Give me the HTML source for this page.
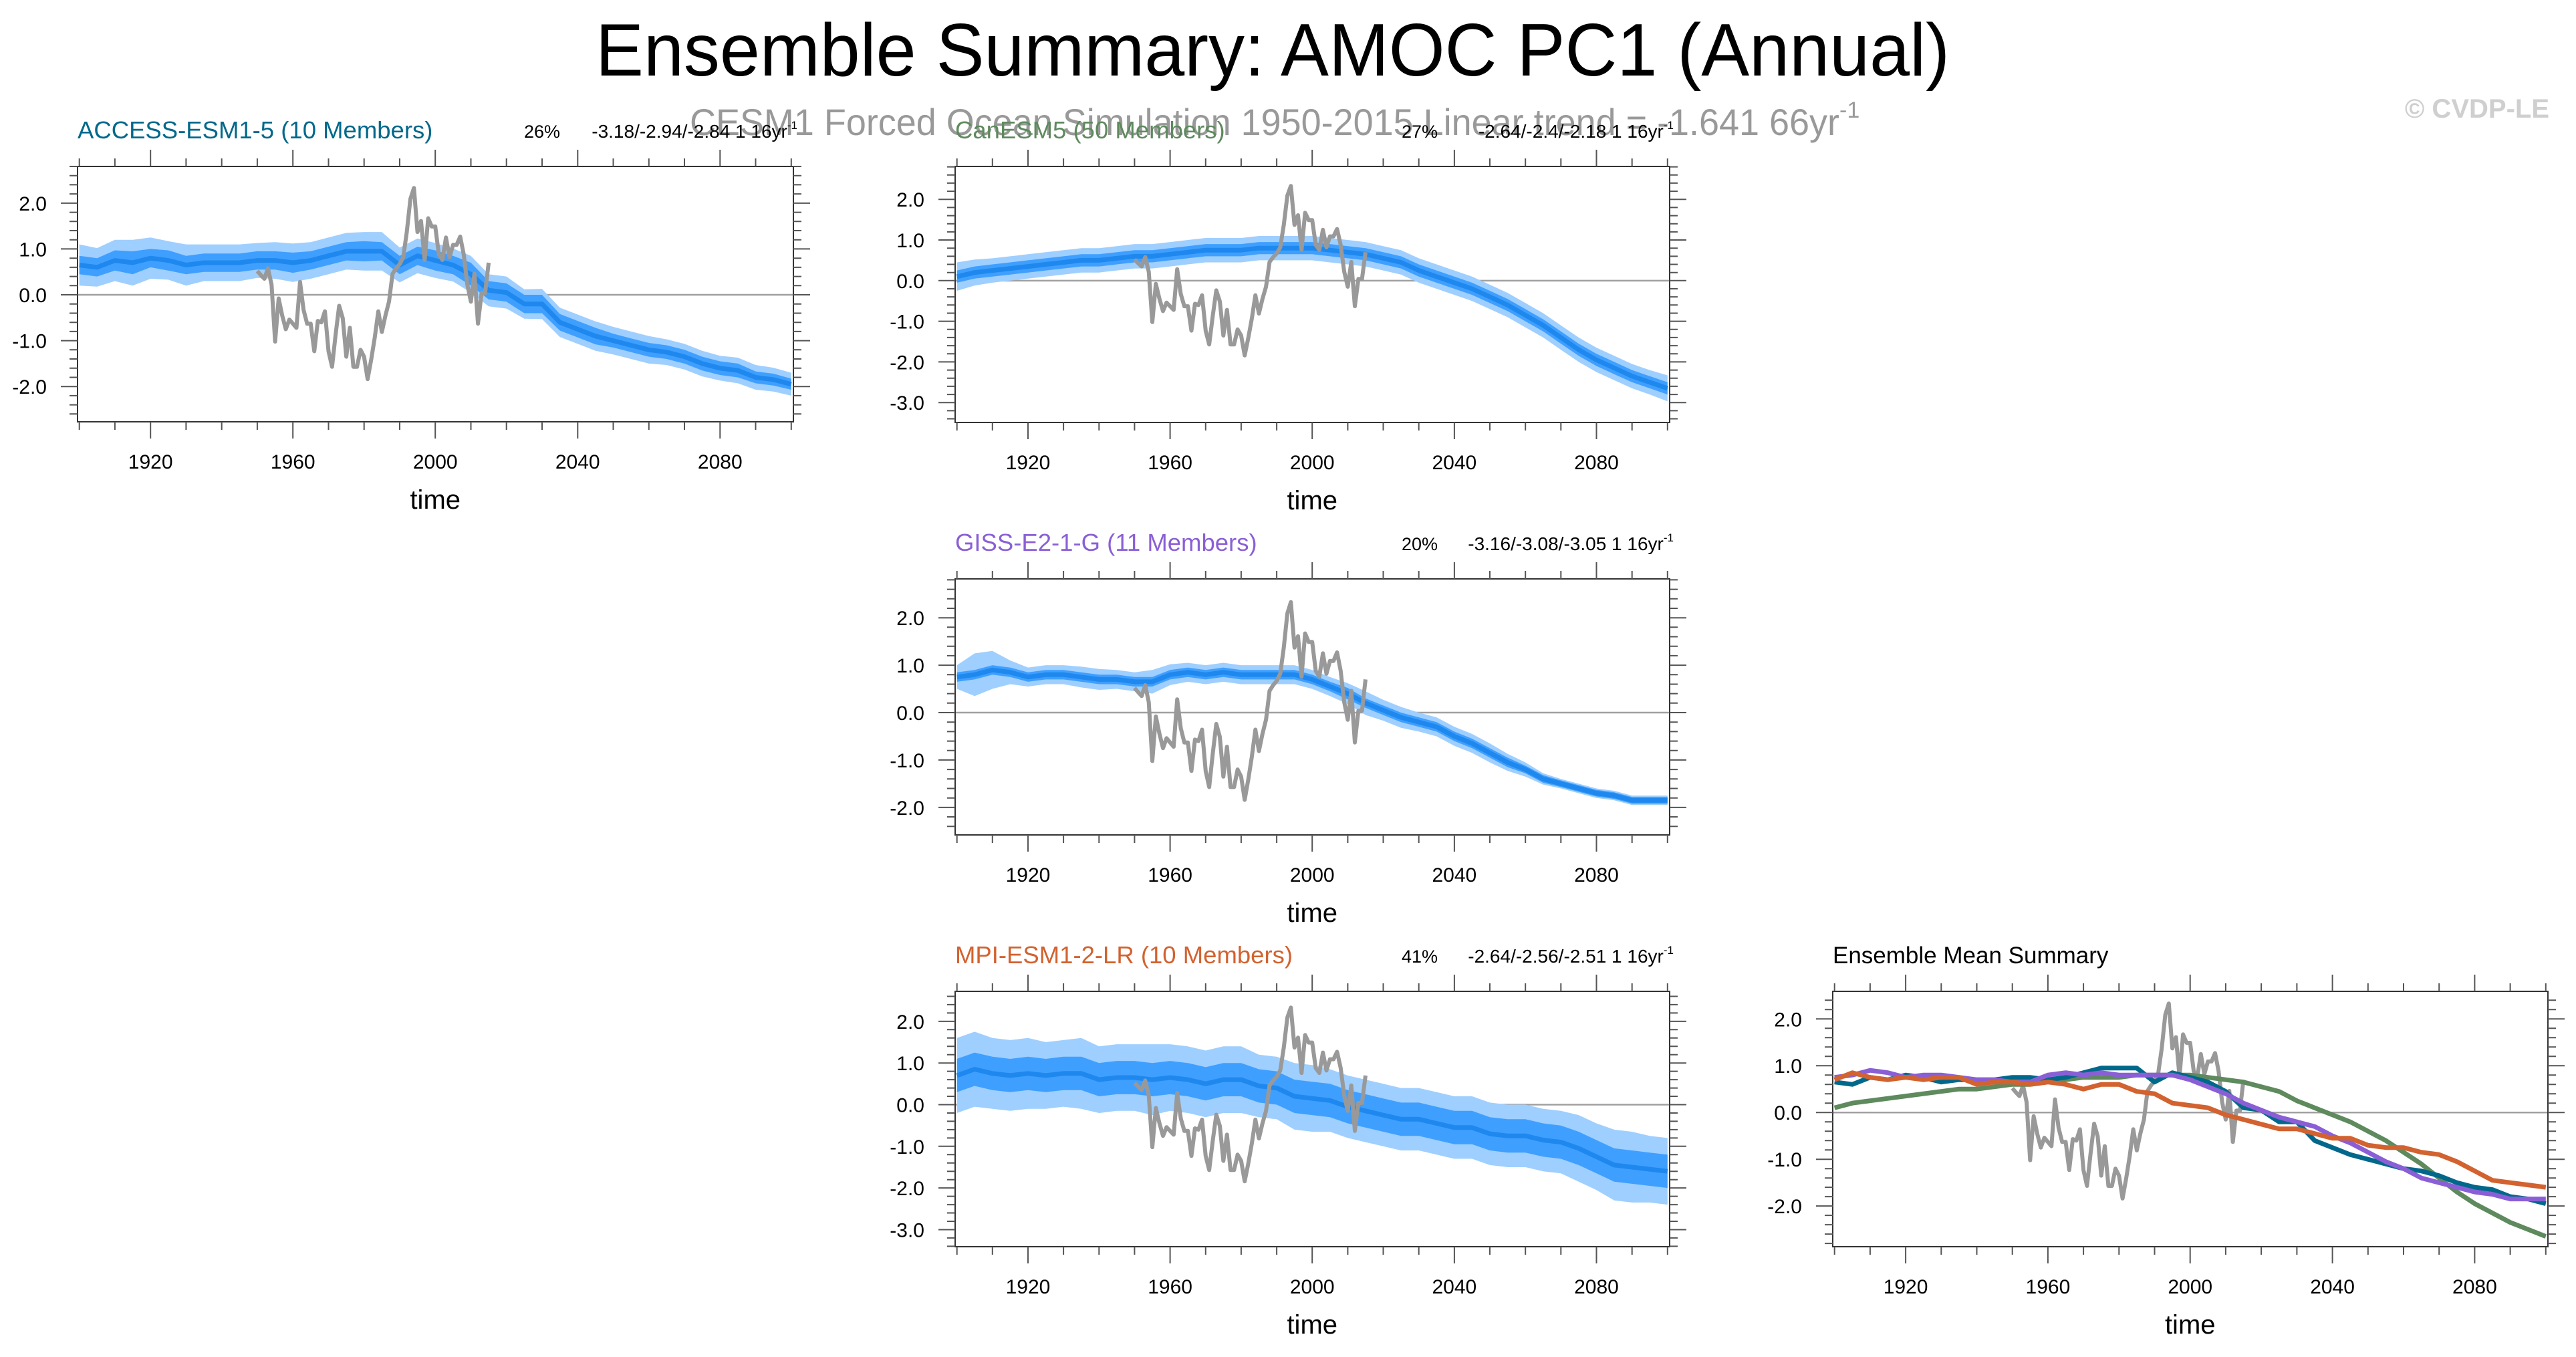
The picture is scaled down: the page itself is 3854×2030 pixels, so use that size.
<!DOCTYPE html>
<html><head><meta charset="utf-8"><title>Ensemble Summary: AMOC PC1 (Annual)</title>
<style>html,body{margin:0;padding:0;background:#fff}svg{display:block}text{font-family:"Liberation Sans",Arial,sans-serif}</style>
</head><body>
<svg id="root" xmlns="http://www.w3.org/2000/svg" width="3854" height="2030" viewBox="0 0 3854 2030">
<rect x="0" y="0" width="3854" height="2030" fill="#fff"/>
<text x="1904" y="113" text-anchor="middle" font-size="111" textLength="2026" lengthAdjust="spacingAndGlyphs" fill="#000">Ensemble Summary: AMOC PC1 (Annual)</text>
<text x="1032" y="202" font-size="56" fill="#999"><tspan textLength="1720" lengthAdjust="spacingAndGlyphs">CESM1 Forced Ocean Simulation 1950-2015  Linear trend = -1.641 66yr</tspan><tspan font-size="34" dy="-26">-1</tspan></text>
<text x="3814" y="176" text-anchor="end" font-size="40" font-weight="bold" fill="#cfcfcf">© CVDP-LE</text>
<g id="plots"></g>
</svg>
<script>
// Years (5-year resolution for ensemble stats)
const years5 = [1900,1905,1910,1915,1920,1925,1930,1935,1940,1945,1950,1955,1960,1965,1970,1975,1980,1985,1990,1995,2000,2005,2010,2015,2020,2025,2030,2035,2040,2045,2050,2055,2060,2065,2070,2075,2080,2085,2090,2095,2100];
// Observations (CESM1 forced ocean), 1950-2015 annual
const obsYears = [1950,1951,1952,1953,1954,1955,1956,1957,1958,1959,1960,1961,1962,1963,1964,1965,1966,1967,1968,1969,1970,1971,1972,1973,1974,1975,1976,1977,1978,1979,1980,1981,1982,1983,1984,1985,1986,1987,1988,1989,1990,1991,1992,1993,1994,1995,1996,1997,1998,1999,2000,2001,2002,2003,2004,2005,2006,2007,2008,2009,2010,2011,2012,2013,2014,2015];
const obsValues = [0.52,0.43,0.35,0.58,0.22,-1.02,-0.08,-0.45,-0.75,-0.54,-0.63,-0.72,0.28,-0.33,-0.63,-0.63,-1.23,-0.57,-0.6,-0.36,-1.23,-1.57,-0.87,-0.24,-0.51,-1.35,-0.72,-1.57,-1.57,-1.2,-1.35,-1.84,-1.41,-0.93,-0.36,-0.81,-0.45,-0.15,0.46,0.58,0.67,0.82,1.37,2.09,2.33,1.37,1.61,0.76,1.67,1.49,1.49,0.88,0.76,1.25,0.82,1.09,1.09,1.27,0.88,0.22,-0.15,0.46,-0.63,0.04,0.04,0.7];
// ACCESS-ESM1-5
const accessMean = [0.65,0.6,0.75,0.7,0.8,0.75,0.65,0.7,0.7,0.7,0.75,0.75,0.7,0.75,0.85,0.95,0.95,0.95,0.65,0.85,0.75,0.65,0.45,0.1,0.05,-0.2,-0.2,-0.6,-0.75,-0.9,-1.0,-1.1,-1.2,-1.25,-1.35,-1.5,-1.6,-1.65,-1.8,-1.85,-1.95];
const accessInner = [0.2,0.2,0.22,0.25,0.2,0.22,0.2,0.2,0.2,0.2,0.2,0.2,0.22,0.2,0.2,0.2,0.22,0.2,0.2,0.2,0.22,0.2,0.25,0.2,0.2,0.2,0.2,0.18,0.18,0.18,0.15,0.15,0.15,0.15,0.15,0.15,0.15,0.15,0.13,0.13,0.12];
const accessOuter = [0.45,0.42,0.45,0.5,0.45,0.42,0.45,0.4,0.4,0.4,0.38,0.4,0.42,0.4,0.4,0.4,0.42,0.42,0.38,0.38,0.38,0.36,0.4,0.35,0.35,0.32,0.33,0.32,0.32,0.32,0.3,0.3,0.3,0.28,0.28,0.28,0.27,0.28,0.27,0.26,0.25];
// CanESM5
const canMean = [0.1,0.2,0.25,0.3,0.35,0.4,0.45,0.5,0.5,0.55,0.6,0.6,0.65,0.7,0.75,0.75,0.75,0.8,0.8,0.8,0.8,0.75,0.7,0.65,0.55,0.45,0.25,0.1,-0.05,-0.2,-0.4,-0.6,-0.85,-1.1,-1.4,-1.7,-1.95,-2.15,-2.35,-2.5,-2.65];
const canInner = [0.15,0.15,0.15,0.15,0.15,0.15,0.15,0.15,0.15,0.15,0.15,0.15,0.15,0.15,0.15,0.15,0.15,0.15,0.15,0.15,0.15,0.15,0.15,0.15,0.15,0.15,0.15,0.15,0.15,0.15,0.15,0.15,0.15,0.15,0.15,0.15,0.15,0.15,0.15,0.15,0.15];
const canOuter = [0.35,0.32,0.3,0.3,0.3,0.3,0.3,0.3,0.3,0.3,0.3,0.3,0.3,0.3,0.3,0.3,0.3,0.3,0.3,0.3,0.3,0.3,0.3,0.3,0.3,0.3,0.3,0.3,0.3,0.3,0.3,0.3,0.3,0.3,0.3,0.3,0.3,0.3,0.3,0.3,0.32];
// GISS-E2-1-G
const gissMean = [0.75,0.8,0.9,0.85,0.75,0.8,0.8,0.75,0.7,0.7,0.65,0.65,0.8,0.85,0.8,0.85,0.8,0.8,0.8,0.8,0.7,0.55,0.4,0.2,0.05,-0.1,-0.2,-0.3,-0.5,-0.65,-0.85,-1.05,-1.2,-1.4,-1.5,-1.6,-1.7,-1.75,-1.85,-1.85,-1.85];
const gissInner = [0.1,0.1,0.1,0.1,0.1,0.1,0.1,0.1,0.1,0.1,0.1,0.1,0.1,0.1,0.1,0.1,0.1,0.1,0.1,0.1,0.1,0.1,0.12,0.1,0.1,0.1,0.1,0.1,0.1,0.1,0.1,0.1,0.08,0.08,0.07,0.07,0.07,0.07,0.07,0.07,0.07];
const gissOuter = [0.25,0.45,0.4,0.25,0.2,0.2,0.2,0.22,0.22,0.2,0.2,0.25,0.22,0.2,0.2,0.2,0.2,0.2,0.2,0.2,0.2,0.2,0.22,0.25,0.22,0.22,0.2,0.2,0.2,0.2,0.2,0.18,0.15,0.12,0.1,0.1,0.1,0.1,0.1,0.1,0.1];
// MPI-ESM1-2-LR
const mpiMean = [0.7,0.85,0.75,0.7,0.75,0.7,0.75,0.75,0.6,0.65,0.65,0.6,0.65,0.6,0.5,0.6,0.6,0.45,0.4,0.2,0.15,0.1,-0.05,-0.15,-0.25,-0.35,-0.35,-0.45,-0.55,-0.55,-0.7,-0.75,-0.75,-0.85,-0.9,-1.05,-1.25,-1.45,-1.5,-1.55,-1.6];
const mpiInner = [0.4,0.4,0.4,0.4,0.4,0.4,0.4,0.4,0.4,0.4,0.4,0.4,0.4,0.4,0.4,0.4,0.4,0.4,0.4,0.4,0.4,0.4,0.4,0.4,0.4,0.4,0.4,0.4,0.4,0.4,0.4,0.4,0.4,0.4,0.4,0.4,0.4,0.4,0.4,0.4,0.4];
const mpiOuter = [0.9,0.9,0.85,0.85,0.85,0.8,0.8,0.85,0.8,0.8,0.8,0.85,0.8,0.8,0.8,0.8,0.8,0.75,0.75,0.8,0.8,0.75,0.75,0.75,0.75,0.75,0.75,0.75,0.75,0.75,0.75,0.75,0.75,0.75,0.75,0.8,0.8,0.85,0.85,0.8,0.8];
// Tick labels
const xTickLabels = [1920,1960,2000,2040,2080];

const NS = 'http://www.w3.org/2000/svg';
const plots = document.getElementById('plots');
function mk(tag, parent){ const e=document.createElementNS(NS,tag); parent.appendChild(e); return e; }

const panels = [
  {key:'access', title:'ACCESS-ESM1-5 (10 Members)', color:'#00688b', pct:'26%', stats:'-3.18/-2.94/-2.84 1 16yr', x:116, y:249, w:1071, h:382, ymin:-2.77, ymax:2.80, ticks:[-2,-1,0,1,2], mean:accessMean, inner:accessInner, outer:accessOuter},
  {key:'canesm5', title:'CanESM5 (50 Members)', color:'#5e8a5e', pct:'27%', stats:'-2.64/-2.4/-2.18 1 16yr', x:1429, y:249, w:1069, h:383, ymin:-3.49, ymax:2.81, ticks:[-3,-2,-1,0,1,2], mean:canMean, inner:canInner, outer:canOuter},
  {key:'giss', title:'GISS-E2-1-G (11 Members)', color:'#8a5fd6', pct:'20%', stats:'-3.16/-3.08/-3.05 1 16yr', x:1429, y:866, w:1069, h:383, ymin:-2.58, ymax:2.82, ticks:[-2,-1,0,1,2], mean:gissMean, inner:gissInner, outer:gissOuter},
  {key:'mpi', title:'MPI-ESM1-2-LR (10 Members)', color:'#d2622f', pct:'41%', stats:'-2.64/-2.56/-2.51 1 16yr', x:1429, y:1483, w:1069, h:382, ymin:-3.41, ymax:2.72, ticks:[-3,-2,-1,0,1,2], mean:mpiMean, inner:mpiInner, outer:mpiOuter},
  {key:'summary', title:'Ensemble Mean Summary', color:'#000', summary:true, x:2742, y:1483, w:1070, h:382, ymin:-2.87, ymax:2.59, ticks:[-2,-1,0,1,2]}
];

function drawPanel(p){
  const g = mk('g', plots);
  
  
  const xs = yr => p.x + (yr - 1899.5) / (2100.6 - 1899.5) * p.w;
  const ys = v => p.y + (p.ymax - v) / (p.ymax - p.ymin) * p.h;
  const L = p.x, R = p.x + p.w, T = p.y, B = p.y + p.h;

  const cid = 'clip-' + p.key;
  const cp = mk('clipPath', g); cp.setAttribute('id', cid);
  const cr = mk('rect', cp); cr.setAttribute('x', L); cr.setAttribute('y', T); cr.setAttribute('width', p.w); cr.setAttribute('height', p.h);
  const plotG = mk('g', g); plotG.setAttribute('clip-path', 'url(#' + cid + ')');
  
  

  const zl = mk('line', plotG);
  zl.setAttribute('x1', L); zl.setAttribute('x2', R); zl.setAttribute('y1', ys(0)); zl.setAttribute('y2', ys(0));
  zl.setAttribute('stroke', '#a0a0a0'); zl.setAttribute('stroke-width', '2.5');
  
  

  const linePts = (xsArr, vals) => xsArr.map((yr,i)=> xs(yr).toFixed(1)+','+ys(vals[i]).toFixed(1)).join(' ');
  const band = (vals, wid) => {
    const up = years5.map((yr,i)=> xs(yr).toFixed(1)+','+ys(vals[i]+wid[i]).toFixed(1));
    const dn = years5.map((yr,i)=> xs(yr).toFixed(1)+','+ys(vals[i]-wid[i]).toFixed(1)).reverse();
    return up.concat(dn).join(' ');
  };

  if (!p.summary) {
    const ob = mk('polygon', plotG);
    ob.setAttribute('points', band(p.mean, p.outer)); ob.setAttribute('fill', '#9fcfff');
    
    
    const ib = mk('polygon', plotG);
    ib.setAttribute('points', band(p.mean, p.inner)); ib.setAttribute('fill', '#3f9fff');
    
    
    const ml = mk('polyline', plotG);
    ml.setAttribute('points', linePts(years5, p.mean)); ml.setAttribute('fill', 'none');
    ml.setAttribute('stroke', '#1e88ee'); ml.setAttribute('stroke-width', '7'); ml.setAttribute('stroke-linejoin', 'round');
    
    
  }
  const obs = mk('polyline', plotG);
  obs.setAttribute('points', linePts(obsYears, obsValues)); obs.setAttribute('fill', 'none');
  obs.setAttribute('stroke', '#999'); obs.setAttribute('stroke-width', '6'); obs.setAttribute('stroke-linejoin', 'round');
  
  

  if (p.summary) {
    const series = [
      {n:'canesm5', c:'#5e8a5e', v:canMean},
      {n:'access', c:'#00688b', v:accessMean},
      {n:'giss', c:'#8a5fd6', v:gissMean},
      {n:'mpi', c:'#d2622f', v:mpiMean}
    ];
    series.forEach(s => {
      const sl = mk('polyline', plotG);
      sl.setAttribute('points', linePts(years5, s.v)); sl.setAttribute('fill', 'none');
      sl.setAttribute('stroke', s.c); sl.setAttribute('stroke-width', '7'); sl.setAttribute('stroke-linejoin', 'round');
      
      
    });
  }

  const fr = mk('rect', g);
  fr.setAttribute('x', L); fr.setAttribute('y', T); fr.setAttribute('width', p.w); fr.setAttribute('height', p.h);
  fr.setAttribute('fill', 'none'); fr.setAttribute('stroke', '#333'); fr.setAttribute('stroke-width', '2');
  
  

  let tk = '';
  for (let yr = 1900; yr <= 2100; yr += 10) {
    const major = (yr - 1920) % 40 === 0;
    const len = major ? 25 : 12;
    const xx = xs(yr).toFixed(1);
    tk += 'M' + xx + ',' + T + 'V' + (T - len) + 'M' + xx + ',' + B + 'V' + (B + len);
  }
  const start = Math.ceil(p.ymin * 5), end = Math.floor(p.ymax * 5);
  for (let k = start; k <= end; k++) {
    const major = k % 5 === 0;
    const len = major ? 25 : 12;
    const yy = ys(k / 5).toFixed(1);
    tk += 'M' + L + ',' + yy + 'H' + (L - len) + 'M' + R + ',' + yy + 'H' + (R + len);
  }
  const tp = mk('path', g);
  tp.setAttribute('d', tk); tp.setAttribute('stroke', '#555'); tp.setAttribute('stroke-width', '2'); tp.setAttribute('fill', 'none');
  
  

  xTickLabels.forEach(yr => {
    const t = mk('text', g);
    t.setAttribute('x', xs(yr)); t.setAttribute('y', B + 70); t.setAttribute('text-anchor', 'middle'); t.setAttribute('font-size', '30');
    t.textContent = yr;
    
    
  });
  p.ticks.forEach(v => {
    const t = mk('text', g);
    t.setAttribute('x', L - 46); t.setAttribute('y', ys(v) + 11); t.setAttribute('text-anchor', 'end'); t.setAttribute('font-size', '30');
    t.textContent = v.toFixed(1);
    
    
  });
  const xt = mk('text', g);
  xt.setAttribute('x', xs(2000)); xt.setAttribute('y', B + 130); xt.setAttribute('text-anchor', 'middle'); xt.setAttribute('font-size', '40');
  xt.textContent = 'time';
  
  

  const tt = mk('text', g);
  tt.setAttribute('x', L); tt.setAttribute('y', T - 42); tt.setAttribute('font-size', p.summary ? '35' : '36.5'); tt.setAttribute('fill', p.color);
  tt.textContent = p.title;
  
  

  if (!p.summary) {
    const pc = mk('text', g);
    pc.setAttribute('x', L + 668); pc.setAttribute('y', T - 43); pc.setAttribute('font-size', '27');
    pc.textContent = p.pct;
    
    
    const st = mk('text', g);
    st.setAttribute('x', R + 6); st.setAttribute('y', T - 43); st.setAttribute('font-size', '28'); st.setAttribute('text-anchor', 'end');
    const s1 = mk('tspan', st); s1.textContent = p.stats;
    const s2 = mk('tspan', st); s2.setAttribute('font-size', '17'); s2.setAttribute('dy', '-13'); s2.textContent = '-1';
    
    
  }
}
panels.forEach(drawPanel);
</script>
</body></html>
